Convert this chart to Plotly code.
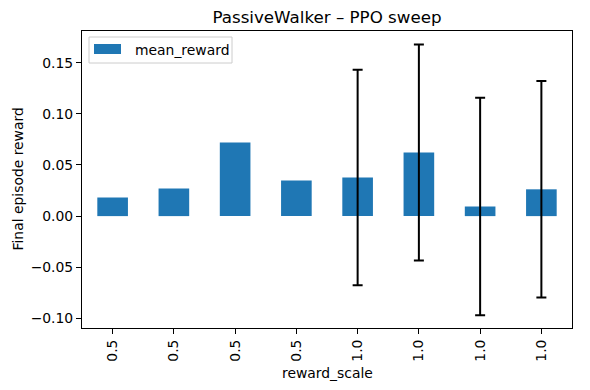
import plotly.graph_objects as go

categories = ["0.5", "0.5", "0.5", "0.5", "1.0", "1.0", "1.0", "1.0"]
mean_reward = [0.0182, 0.0270, 0.0719, 0.0348, 0.0378, 0.0622, 0.0094, 0.0262]
std_reward = [None, None, None, None, 0.1053, 0.1055, 0.1063, 0.1058]
y_ticks = [-0.10, -0.05, 0.00, 0.05, 0.10, 0.15]
y_ticktext = ["\u22120.10", "\u22120.05", "0.00", "0.05", "0.10", "0.15"]

x_pos = list(range(len(categories)))
FONT = "DejaVu Sans"
BLUE = "#1f77b4"

# plot area in pixels
W, H = 590, 390
L, R, T, B = 82, 572, 31, 328
PW, PH = R - L, B - T


def px_x(px):
    return (px - L) / PW


def px_y(py):
    return (B - py) / PH


fig = go.Figure()
fig.add_trace(go.Bar(
    x=x_pos, y=mean_reward, width=0.5, name="mean_reward",
    marker=dict(color=BLUE, line=dict(width=0)),
    showlegend=False,
))
err_idx = [i for i, s in enumerate(std_reward) if s is not None]
fig.add_trace(go.Scatter(
    x=[x_pos[i] for i in err_idx], y=[mean_reward[i] for i in err_idx],
    mode="markers", marker=dict(size=0.1, color="rgba(0,0,0,0)"),
    error_y=dict(type="data", array=[std_reward[i] for i in err_idx], visible=True,
                 color="black", thickness=2, width=5),
    showlegend=False, hoverinfo="skip",
))

axis_common = dict(showline=True, linecolor="black", linewidth=1, mirror=True,
                   ticks="outside", ticklen=5, tickcolor="black", tickwidth=1,
                   showgrid=False, zeroline=False, automargin=False,
                   tickfont=dict(family=FONT, size=13.9, color="black"))

# legend drawn manually (matplotlib-style)
shapes = [
    dict(type="rect", xref="paper", yref="paper",
         x0=px_x(89), x1=px_x(232), y0=px_y(63), y1=px_y(37),
         line=dict(color="#cccccc", width=1), fillcolor="rgba(255,255,255,0.8)", layer="above"),
    dict(type="rect", xref="paper", yref="paper",
         x0=px_x(94), x1=px_x(121), y0=px_y(54), y1=px_y(44),
         line=dict(width=0), fillcolor=BLUE, layer="above"),
]
annotations = [
    dict(text="mean_reward", xref="paper", yref="paper", x=px_x(133), y=px_y(50),
         xanchor="left", yanchor="middle", showarrow=False,
         font=dict(family=FONT, size=13.9, color="black")),
    dict(text="reward_scale", xref="paper", yref="paper", x=0.5, y=px_y(373),
         xanchor="center", yanchor="middle", showarrow=False,
         font=dict(family=FONT, size=13.9, color="black")),
    dict(text="Final episode reward", xref="paper", yref="paper", x=px_x(17), y=0.5,
         xanchor="center", yanchor="middle", showarrow=False, textangle=-90,
         font=dict(family=FONT, size=13.9, color="black")),
]

fig.update_layout(
    width=W, height=H,
    margin=dict(l=L, r=W - R, t=T, b=H - B, autoexpand=False),
    paper_bgcolor="white", plot_bgcolor="white",
    title=dict(text="PassiveWalker \u2013 PPO sweep", x=(L + R) / 2 / W, xanchor="center",
               y=1 - 17 / H, yanchor="middle", automargin=False,
               font=dict(family=FONT, size=16.7, color="black")),
    xaxis=dict(axis_common, range=[-0.5, 7.5], tickvals=x_pos, ticktext=categories,
               tickangle=-90),
    yaxis=dict(axis_common, range=[-0.1094, 0.181], tickvals=y_ticks, ticktext=y_ticktext),
    shapes=shapes, annotations=annotations,
    showlegend=False,
)

fig.write_html("out.html", config={"displayModeBar": False, "staticPlot": True},
               post_script="document.body.style.margin='0';document.body.style.overflow='hidden';")
